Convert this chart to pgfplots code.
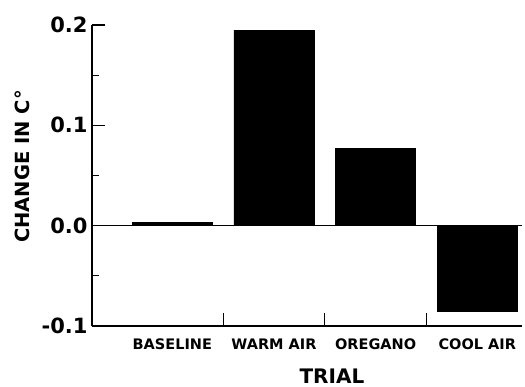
\documentclass[border=0pt]{standalone}
\usepackage{fontspec}
\setmainfont{DejaVu Sans}
\usepackage{pgfplots}
\pgfplotsset{compat=1.18}
\begin{document}
\begin{tikzpicture}
\begin{axis}[
  scale only axis,
  width=430pt, height=301pt,
  xmin=-0.79, xmax=3.44,
  ymin=-0.1, ymax=0.2,
  axis x line=bottom, axis y line=left,
  axis line style={line width=1.3pt, -},
  tick style={line width=1.2pt, black},
  tick align=inside,
  major tick length=13pt,
  minor tick length=7pt,
  ytick={-0.1,0,0.1,0.2},
  yticklabels={-0.1,0.0,0.1,0.2},
  minor ytick={-0.05,0.05,0.15},
  xtick={0.5,1.5,2.5},
  xticklabels={},
  extra x ticks={0,1,2,3},
  extra x tick labels={BASELINE,WARM AIR,OREGANO,COOL AIR},
  extra x tick style={major tick length=0pt, tick label style={font=\fontsize{14.5}{16}\selectfont\bfseries, yshift=-9pt}},
  yticklabel style={font=\fontsize{21}{24}\selectfont\bfseries, xshift=-1pt},
  ylabel={CHANGE IN C\textdegree},
  ylabel style={font=\fontsize{19.5}{24}\selectfont\bfseries, at={(axis description cs:-0.137,0.53)}, anchor=south},
  xlabel={TRIAL},
  xlabel style={font=\fontsize{20}{24}\selectfont\bfseries, at={(axis description cs:0.558,0)}, anchor=north, yshift=-39pt},
  clip=false,
]
\addplot[ybar, bar width=80pt, fill=black, draw=black] coordinates {(0,0.003) (1,0.195) (2,0.077) (3,-0.085)};
\addplot[black, line width=1.5pt] coordinates {(-0.79,0) (3.44,0)};
\end{axis}
\path (current axis.south west) ++(-92pt,-60pt) rectangle ([xshift=3pt,yshift=25pt]current axis.north east);
\end{tikzpicture}
\end{document}
